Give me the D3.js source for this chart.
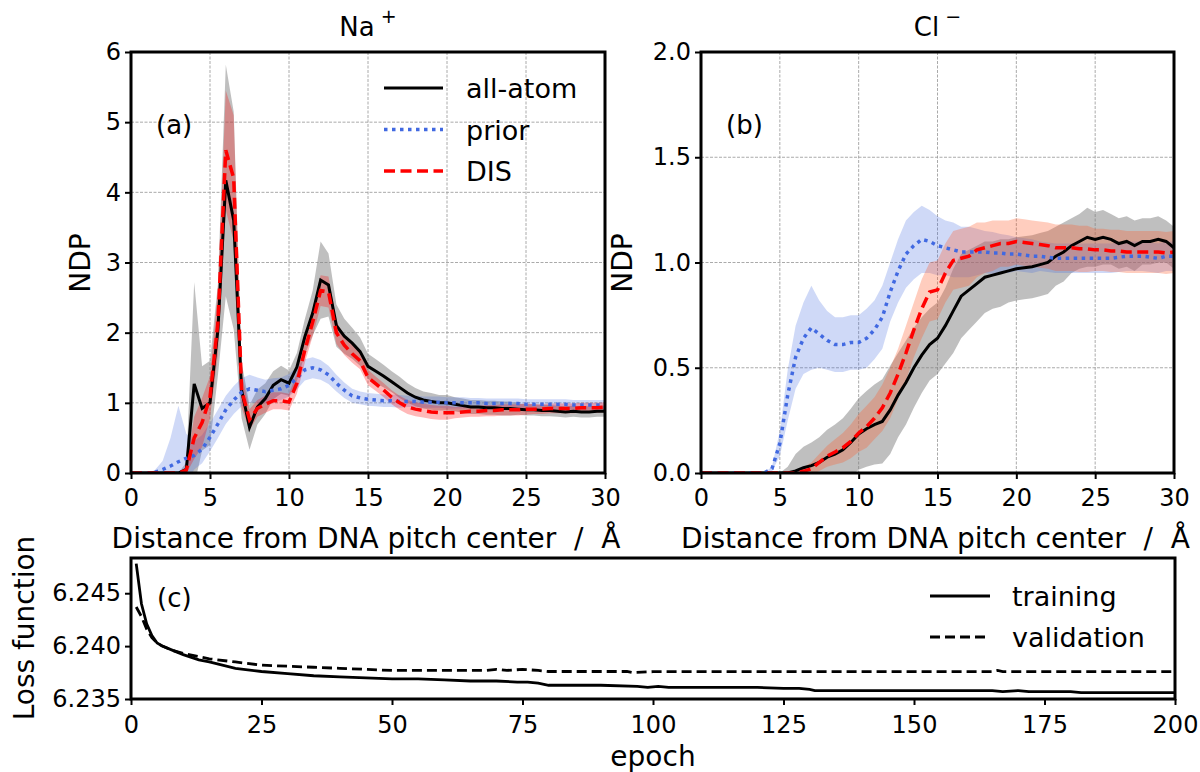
<html>
<head>
<meta charset="utf-8">
<style>
  body { margin: 0; background: #fff; }
  text { font-family: "DejaVu Sans", sans-serif; fill: #000; }
  .grid line { stroke: #a0a0a0; stroke-width: 0.9; stroke-dasharray: 3,1.5; }
  .axis path.domain { display: none; }
  .axis line { stroke: #000; stroke-width: 2; }
  .axis text { font-size: 24px; }
  .label { font-size: 28px; white-space: pre; }
</style>
<script src="https://d3js.org/d3.v7.min.js"></script>
</head>
<body>
<svg width="1200" height="772"></svg>
<script>
// distance from DNA pitch center (Angstrom)
var distance = [0,0.5,1,1.5,2,2.5,3,3.5,4,4.5,5,5.5,6,6.5,7,7.5,8,8.5,9,9.5,10,
  10.5,11,11.5,12,12.5,13,13.5,14,14.5,15,15.5,16,16.5,17,17.5,18,18.5,19,19.5,20,
  20.5,21,21.5,22,22.5,23,23.5,24,24.5,25,25.5,26,26.5,27,27.5,28,28.5,29,29.5,30];

// Na+ NDP (mean and spread)
var naAllAtom = [0,0,0,0,0,0,0,
  0.05,1.27,0.92,1.0,2.04,4.17,3.6,1.18,0.65,0.94,
  1.06,1.25,1.33,1.28,1.51,1.94,2.28,2.75,2.68,2.1,
  1.95,1.85,1.73,1.52,1.45,1.38,1.3,1.22,1.14,1.08,
  1.04,1.02,1.0,1.0,0.98,0.96,0.94,0.94,0.93,0.93,
  0.92,0.92,0.91,0.9,0.9,0.89,0.89,0.88,0.87,0.88,
  0.87,0.87,0.88,0.88];
var naAllAtomSd = [0,0,0,0,0,0,0,
  0.1,1.45,0.6,0.6,0.65,1.65,1.55,0.4,0.32,0.25,
  0.22,0.2,0.2,0.18,0.2,0.25,0.32,0.55,0.45,0.3,
  0.25,0.22,0.2,0.18,0.17,0.16,0.15,0.15,0.14,0.13,
  0.12,0.12,0.11,0.11,0.1,0.1,0.1,0.1,0.1,0.1,
  0.1,0.1,0.08,0.08,0.08,0.08,0.08,0.08,0.08,0.08,
  0.08,0.08,0.08,0.08];
var naPrior = [0,0,0,0.01,0.05,0.1,0.16,
  0.21,0.25,0.34,0.51,0.7,0.9,1.04,1.15,1.2,1.18,
  1.16,1.18,1.2,1.25,1.35,1.47,1.5,1.47,1.4,1.28,
  1.18,1.1,1.07,1.05,1.04,1.03,1.03,1.02,1.02,1.02,
  1.01,1.01,1.01,1.0,1.0,1.0,1.0,1.0,0.99,0.99,
  0.99,0.99,0.99,0.98,0.98,0.98,0.98,0.98,0.98,0.97,
  0.97,0.97,0.97,0.97];
var naPriorSd = [0,0,0,0.03,0.12,0.4,0.8,
  0.35,0.2,0.2,0.2,0.2,0.2,0.2,0.2,0.2,0.18,
  0.17,0.17,0.16,0.16,0.16,0.15,0.15,0.14,0.13,0.12,
  0.11,0.1,0.09,0.09,0.09,0.09,0.09,0.09,0.08,0.08,
  0.08,0.08,0.08,0.08,0.08,0.08,0.07,0.07,0.07,0.07,
  0.07,0.07,0.07,0.07,0.07,0.07,0.07,0.07,0.07,0.07,
  0.07,0.07,0.07,0.07];
var naDIS = [0,0,0,0,0,0,0,
  0.04,0.5,0.72,1.08,2.14,4.6,4.2,1.18,0.76,0.92,
  0.98,1.03,1.03,1.01,1.28,1.75,2.15,2.6,2.58,2.0,
  1.82,1.7,1.6,1.36,1.27,1.18,1.08,1.0,0.94,0.91,
  0.89,0.87,0.86,0.86,0.86,0.87,0.88,0.88,0.89,0.89,
  0.9,0.9,0.9,0.91,0.91,0.91,0.92,0.92,0.92,0.92,
  0.93,0.93,0.93,0.94];
var naDISSd = [0,0,0,0,0,0,0,
  0.05,0.3,0.35,0.3,0.45,0.85,0.9,0.25,0.15,0.12,
  0.12,0.12,0.12,0.12,0.15,0.18,0.2,0.22,0.22,0.16,
  0.14,0.13,0.12,0.11,0.1,0.1,0.1,0.1,0.1,0.1,
  0.1,0.1,0.1,0.1,0.08,0.08,0.08,0.08,0.08,0.08,
  0.08,0.08,0.08,0.08,0.07,0.07,0.07,0.07,0.07,0.07,
  0.07,0.07,0.07,0.07];

// Cl- NDP (mean and spread)
var clAllAtom = [0,0,0,0,0,0,0,0,0,0,0,
  0,0.01,0.025,0.035,0.05,0.075,0.09,0.11,0.145,0.185,
  0.21,0.23,0.245,0.3,0.37,0.43,0.5,0.56,0.61,0.64,
  0.7,0.77,0.84,0.87,0.9,0.93,0.94,0.95,0.96,0.97,
  0.975,0.98,0.99,1.0,1.03,1.05,1.08,1.1,1.12,1.11,
  1.12,1.11,1.09,1.1,1.08,1.1,1.1,1.11,1.1,1.07];
var clAllAtomSd = [0,0,0,0,0,0,0,0,0,0,0,
  0.03,0.08,0.1,0.11,0.12,0.13,0.14,0.15,0.16,0.17,
  0.18,0.19,0.2,0.21,0.2,0.2,0.19,0.18,0.17,0.17,
  0.18,0.2,0.2,0.19,0.18,0.17,0.16,0.16,0.15,0.15,
  0.15,0.15,0.15,0.15,0.14,0.14,0.13,0.13,0.14,0.13,
  0.13,0.12,0.12,0.12,0.12,0.11,0.11,0.11,0.1,0.1];
var clPrior = [0,0,0,0,0,0,0,0,0,
  0.02,0.14,0.37,0.55,0.64,0.69,0.66,0.63,0.61,0.61,0.62,0.62,
  0.64,0.68,0.74,0.86,0.96,1.04,1.08,1.11,1.1,1.08,
  1.07,1.06,1.05,1.05,1.05,1.05,1.045,1.045,1.04,1.04,
  1.035,1.03,1.03,1.025,1.02,1.02,1.02,1.02,1.02,1.02,
  1.02,1.02,1.025,1.03,1.03,1.03,1.025,1.02,1.03,1.03];
var clPriorSd = [0,0,0,0,0,0,0,0,0,
  0.01,0.06,0.12,0.15,0.17,0.2,0.16,0.14,0.13,0.13,0.13,0.13,
  0.14,0.14,0.15,0.14,0.15,0.16,0.16,0.16,0.15,0.14,
  0.13,0.13,0.12,0.12,0.11,0.1,0.1,0.09,0.09,0.08,
  0.08,0.08,0.07,0.07,0.07,0.07,0.07,0.07,0.07,0.07,
  0.07,0.07,0.07,0.07,0.07,0.07,0.07,0.07,0.07,0.07];
var clDIS = [0,0,0,0,0,0,0,0,0,0,0,
  0,0,0.008,0.02,0.05,0.08,0.1,0.12,0.15,0.19,
  0.22,0.26,0.31,0.38,0.47,0.57,0.68,0.78,0.86,0.87,
  0.95,1.01,1.02,1.03,1.06,1.07,1.08,1.09,1.09,1.1,
  1.095,1.09,1.085,1.08,1.07,1.07,1.07,1.065,1.065,1.06,
  1.06,1.055,1.055,1.05,1.05,1.05,1.05,1.05,1.045,1.05];
var clDISSd = [0,0,0,0,0,0,0,0,0,0,0,
  0,0,0.02,0.03,0.04,0.05,0.06,0.07,0.08,0.09,
  0.1,0.1,0.11,0.12,0.12,0.13,0.13,0.14,0.14,0.14,
  0.14,0.14,0.14,0.14,0.13,0.12,0.12,0.11,0.11,0.11,
  0.11,0.11,0.11,0.11,0.11,0.11,0.11,0.11,0.11,0.1,
  0.1,0.1,0.1,0.1,0.1,0.1,0.1,0.1,0.1,0.1];

// loss function vs epoch
var trainEpoch = [1,2,3,4,5,6,8,10,13,15,20,25,30,35,40,45,50,55,60,65,70,74,76,78,80,85,90,97,99,101,103,110,120,125,128,130,131,150,165,167,170,172,180,182,200];
var trainLoss = [6.2478,6.2440,6.2421,6.2410,6.2403,6.2400,6.2396,6.2392,6.2387,6.2385,6.2379,6.2376,6.2374,6.2372,6.2371,6.2370,6.2369,6.2369,6.2368,6.2367,6.2367,6.2366,6.2366,6.2365,6.2363,6.2363,6.2363,6.2362,6.2361,6.2362,6.2361,6.2361,6.2361,6.2360,6.2360,6.2359,6.2358,6.2358,6.2358,6.2357,6.2358,6.2357,6.2357,6.2356,6.2356];
var validEpoch = [1,2,3,4,5,6,8,10,13,15,20,25,30,35,40,45,50,60,68,70,72,75,78,80,95,96,100,165,166,167,200];
var validLoss = [6.2437,6.2428,6.2416,6.2408,6.2403,6.2400,6.2396,6.2393,6.2390,6.2388,6.2385,6.2382,6.2381,6.2380,6.2379,6.2378,6.2377,6.2377,6.2377,6.2378,6.2377,6.2378,6.2377,6.2376,6.2376,6.2375,6.23758,6.23758,6.2377,6.23758,6.23758];

var distTicks = [0,5,10,15,20,25,30];
var naTicks = [0,1,2,3,4,5,6];
var clTicks = [0,0.5,1.0,1.5,2.0];
var epochTicks = [0,25,50,75,100,125,150,175,200];
var lossTicks = [6.235,6.240,6.245];

var svg = d3.select('svg');
var style = {
  aa:    { color: '#000',    width: 3,   dash: null,      band: 'rgba(128,128,128,0.5)' },
  prior: { color: '#4169e1', width: 3.5, dash: '3.5,4.5', band: 'rgba(65,105,225,0.25)' },
  dis:   { color: '#ff0000', width: 3.5, dash: '11,5.5',  band: 'rgba(255,0,0,0.28)' }
};

function frame(grp, b) {
  grp.append('rect')
    .attr('x', b.left).attr('y', b.top)
    .attr('width', b.right - b.left).attr('height', b.bottom - b.top)
    .attr('fill', 'none').attr('stroke', '#000').attr('stroke-width', 3);
}

function ndpPanel(b) {
  var grp = svg.append('g');
  var x = d3.scaleLinear().domain([0, 30]).range([b.left, b.right]);
  var y = d3.scaleLinear().domain([0, b.ymax]).range([b.bottom, b.top]);

  svg.append('clipPath').attr('id', 'clip' + b.id).append('rect')
    .attr('x', b.left).attr('y', b.top)
    .attr('width', b.right - b.left).attr('height', b.bottom - b.top);

  // grid
  var grid = grp.append('g').attr('class', 'grid');
  grid.selectAll('.gx').data(distTicks.slice(1, -1)).enter().append('line')
    .attr('x1', d => x(d)).attr('x2', d => x(d)).attr('y1', b.top).attr('y2', b.bottom);
  grid.selectAll('.gy').data(b.yticks.slice(1, -1)).enter().append('line')
    .attr('x1', b.left).attr('x2', b.right).attr('y1', d => y(d)).attr('y2', d => y(d));

  var plot = grp.append('g').attr('clip-path', 'url(#clip' + b.id + ')');
  var area = d3.area()
    .x(d => x(d[0])).y0(d => y(d[1] - d[2])).y1(d => y(d[1] + d[2]));
  var line = d3.line().x(d => x(d[0])).y(d => y(d[1]));

  b.series.forEach(function(s) {
    plot.append('path').datum(d3.zip(distance, s.mean, s.sd))
      .attr('d', area).attr('fill', s.band || style[s.key].band);
  });
  b.series.forEach(function(s) {
    var st = style[s.key];
    plot.append('path').datum(d3.zip(distance, s.mean))
      .attr('d', line).attr('fill', 'none')
      .attr('stroke', st.color).attr('stroke-width', st.width)
      .attr('stroke-dasharray', st.dash);
  });

  frame(grp, b);

  grp.append('g').attr('class', 'axis')
    .attr('transform', 'translate(0,' + b.bottom + ')')
    .call(d3.axisBottom(x).tickValues(distTicks).tickSize(6).tickSizeOuter(0).tickPadding(10));
  grp.append('g').attr('class', 'axis')
    .attr('transform', 'translate(' + b.left + ',0)')
    .call(d3.axisLeft(y).tickValues(b.yticks).tickFormat(b.fmt).tickSize(6).tickSizeOuter(0).tickPadding(4));

  var cx = (b.left + b.right) / 2;
  var t = grp.append('text').attr('x', cx).attr('y', 36)
    .attr('text-anchor', 'middle').style('font-size', '26px').text(b.ion);
  t.append('tspan').attr('dy', -13).style('font-size', '19px').text(' ' + b.charge);

  grp.append('text').attr('class', 'label').attr('x', cx - 2).attr('y', 548)
    .attr('text-anchor', 'middle')
    .text('Distance from DNA pitch center  /  Å');
  grp.append('text').attr('class', 'label')
    .attr('transform', 'translate(' + b.ylabX + ',263) rotate(-90)')
    .attr('text-anchor', 'middle').text('NDP');
  grp.append('text').attr('x', b.left + 25).attr('y', 134)
    .style('font-size', '26px').text(b.tag);
}

ndpPanel({
  id: 'a', left: 131, right: 605, top: 52, bottom: 473, ymax: 6,
  yticks: naTicks, fmt: d3.format('d'), ion: 'Na', charge: '+', tag: '(a)', ylabX: 90,
  series: [
    { key: 'aa', mean: naAllAtom, sd: naAllAtomSd },
    { key: 'prior', mean: naPrior, sd: naPriorSd },
    { key: 'dis', mean: naDIS, sd: naDISSd }
  ]
});
ndpPanel({
  id: 'b', left: 701, right: 1174, top: 52, bottom: 473, ymax: 2,
  yticks: clTicks, fmt: d3.format('.1f'), ion: 'Cl', charge: '\u2212', tag: '(b)', ylabX: 632,
  series: [
    { key: 'aa', mean: clAllAtom, sd: clAllAtomSd },
    { key: 'prior', mean: clPrior, sd: clPriorSd },
    { key: 'dis', mean: clDIS, sd: clDISSd, band: 'rgba(255,90,40,0.3)' }
  ]
});

// legend for (a)
var legA = svg.append('g');
[['all-atom', 'aa'], ['prior', 'prior'], ['DIS', 'dis']].forEach(function(e, i) {
  var yy = 88 + i * 41.5, st = style[e[1]];
  legA.append('line').attr('x1', 384).attr('x2', 443).attr('y1', yy).attr('y2', yy)
    .attr('stroke', st.color).attr('stroke-width', st.width).attr('stroke-dasharray', st.dash);
  legA.append('text').attr('x', 466).attr('y', yy + 10).style('font-size', '27px').text(e[0]);
});

// (c) loss panel
(function() {
  var b = { left: 131, right: 1175, top: 558, bottom: 699 };
  var grp = svg.append('g');
  var x = d3.scaleLinear().domain([0, 200]).range([b.left, b.right]);
  var y = d3.scaleLinear().domain([6.235, 6.24833]).range([b.bottom, b.top]);
  var line = d3.line().x(d => x(d[0])).y(d => y(d[1]));

  svg.append('clipPath').attr('id', 'clipc').append('rect')
    .attr('x', b.left).attr('y', b.top).attr('width', b.right - b.left).attr('height', b.bottom - b.top);
  var plot = grp.append('g').attr('clip-path', 'url(#clipc)');
  plot.append('path').datum(d3.zip(trainEpoch, trainLoss)).attr('d', line)
    .attr('fill', 'none').attr('stroke', '#000').attr('stroke-width', 2.8);
  plot.append('path').datum(d3.zip(validEpoch, validLoss)).attr('d', line)
    .attr('fill', 'none').attr('stroke', '#000').attr('stroke-width', 2.8)
    .attr('stroke-dasharray', '10,5');

  frame(grp, b);
  grp.append('g').attr('class', 'axis')
    .attr('transform', 'translate(0,' + b.bottom + ')')
    .call(d3.axisBottom(x).tickValues(epochTicks).tickSize(6).tickSizeOuter(0).tickPadding(11));
  grp.append('g').attr('class', 'axis')
    .attr('transform', 'translate(' + b.left + ',0)')
    .call(d3.axisLeft(y).tickValues(lossTicks).tickFormat(d3.format('.3f')).tickSize(6).tickSizeOuter(0).tickPadding(4));

  grp.append('text').attr('class', 'label').attr('x', (b.left + b.right) / 2).attr('y', 766)
    .attr('text-anchor', 'middle').text('epoch');
  grp.append('text').attr('class', 'label').attr('transform', 'translate(34,628) rotate(-90)')
    .attr('text-anchor', 'middle').text('Loss function');
  grp.append('text').attr('x', 157).attr('y', 607).style('font-size', '26px').text('(c)');

  [['training', null], ['validation', '10,5']].forEach(function(e, i) {
    var yy = 596 + i * 41;
    grp.append('line').attr('x1', 930).attr('x2', 990).attr('y1', yy).attr('y2', yy)
      .attr('stroke', '#000').attr('stroke-width', 2.8).attr('stroke-dasharray', e[1]);
    grp.append('text').attr('x', 1012).attr('y', yy + 10).style('font-size', '27px').text(e[0]);
  });
})();
</script>
</body>
</html>
